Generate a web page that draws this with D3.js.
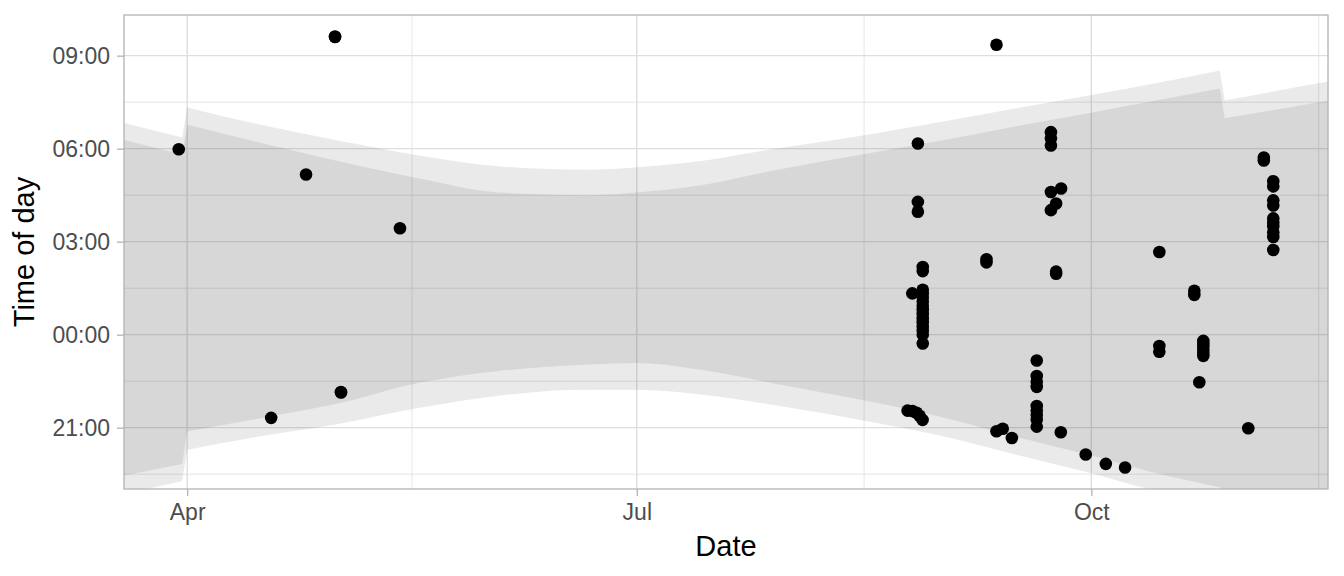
<!DOCTYPE html>
<html><head><meta charset="utf-8">
<script src="https://cdn.jsdelivr.net/npm/d3@7"></script>
<style>
body{margin:0;background:#fff}
svg{display:block}
text{font-family:"Liberation Sans",Arial,Helvetica,sans-serif}
</style>
</head><body>
<svg id="chart" width="1344" height="576"></svg>
<script>
// ---------- observations ----------
const obsDateTime = [
  "2019-03-30T07:00","2019-04-18T00:00","2019-04-25T01:30","2019-04-30T22:00","2019-04-30T22:30",
  "2019-05-02T03:00","2019-05-02T03:30","2019-05-14T01:40",
  "2019-08-26T21:20","2019-08-26T21:20","2019-08-26T21:20","2019-08-27T21:00","2019-08-27T21:00","2019-08-25T18:15",
  "2019-08-27T21:00","2019-08-27T21:00","2019-08-27T21:00","2019-08-27T21:00","2019-08-27T21:00","2019-08-27T21:00",
  "2019-08-27T21:00","2019-08-27T21:00","2019-08-27T21:00","2019-08-27T21:00","2019-08-27T21:00","2019-08-27T21:00",
  "2019-08-27T21:00",
  "2019-08-24T19:12","2019-08-25T19:30","2019-08-26T15:00","2019-08-27T05:30","2019-08-27T20:10",
  "2019-09-09T18:40","2019-09-09T18:40","2019-09-11T19:12","2019-09-11T19:12","2019-09-13T01:30","2019-09-14T22:00",
  "2019-09-19T22:50","2019-09-19T22:50","2019-09-19T22:50","2019-09-19T22:50","2019-09-19T22:50","2019-09-19T22:50",
  "2019-09-19T22:50","2019-09-19T22:50","2019-09-19T22:50",
  "2019-09-24T19:40",
  "2019-09-22T19:40","2019-09-22T19:40","2019-09-22T19:40","2019-09-24T21:10","2019-09-22T19:40","2019-09-23T20:50",
  "2019-09-22T19:40","2019-09-23T20:50","2019-09-23T20:50",
  "2019-09-29T20:40","2019-10-03T22:20","2019-10-07T19:50",
  "2019-10-14T18:15","2019-10-14T18:15","2019-10-14T18:15",
  "2019-10-21T20:10","2019-10-21T20:10",
  "2019-10-23T15:50","2019-10-23T15:50","2019-10-23T15:50","2019-10-23T15:50","2019-10-23T15:50","2019-10-23T15:50",
  "2019-10-22T20:25","2019-11-01T18:15",
  "2019-11-04T21:40","2019-11-04T21:40",
  "2019-11-06T19:40","2019-11-06T19:40","2019-11-06T19:40","2019-11-06T19:40","2019-11-06T19:40","2019-11-06T19:40",
  "2019-11-06T19:40","2019-11-06T19:40","2019-11-06T19:40","2019-11-06T19:40"
];
const obsTime = [
  "05:59","21:19","05:10","09:37","09:36",
  "22:09","22:08","03:26",
  "06:10","04:17","03:58","02:11","02:03","01:20",
  "01:27","01:20","01:12","01:04","00:56","00:48",
  "00:40","00:32","00:24","00:16","00:08","00:00",
  "23:43",
  "21:33","21:32","21:29","21:23","21:15",
  "02:26","02:20","09:21","20:53","20:58","20:40",
  "23:10","22:40","22:29","22:19","21:42","21:33",
  "21:25","21:16","21:02",
  "20:51",
  "06:32","06:20","06:06","04:43","04:36","04:14",
  "04:01","02:02","01:58",
  "20:08","19:50","19:43",
  "02:40","23:38","23:27",
  "01:25","01:17",
  "23:48","23:42","23:37","23:31","23:25","23:19",
  "22:28","20:59",
  "05:43","05:37",
  "04:57","04:47","04:20","04:10","03:45","03:37",
  "03:30","03:18","03:09","02:44"
];

// ---------- night bands (hours from midnight, local clock time) ----------
const sunDates = ["2019-03-15","2019-03-31","2019-04-01","2019-04-15","2019-05-01","2019-05-18","2019-06-03",
  "2019-06-21","2019-07-01","2019-07-14","2019-07-29","2019-08-17","2019-09-01","2019-09-15","2019-10-01",
  "2019-10-13","2019-10-27","2019-10-28","2019-11-10","2019-11-25"];
const clockSegment = [0,0,1,1,1,1,1,1,1,1,1,1,1,1,1,1,1,2,2,2];
const sunrise = [6.99,6.36,7.33,6.80,6.28,5.78,5.43,5.32,5.40,5.60,6.00,6.46,6.88,7.28,7.73,8.08,8.52,7.55,7.94,8.37];
const sunset  = [-5.30,-4.72,-3.71,-3.30,-2.90,-2.36,-1.97,-1.78,-1.78,-1.93,-2.28,-2.80,-3.28,-3.84,-4.47,-5.00,-5.52,-6.50,-6.80,-7.00];
const dawn    = [6.45,5.81,6.77,6.22,5.62,5.04,4.59,4.50,4.59,4.82,5.30,5.85,6.27,6.70,7.16,7.52,7.94,6.98,7.33,7.74];
const dusk    = [-4.68,-4.17,-3.12,-2.72,-2.24,-1.55,-1.17,-0.96,-0.91,-1.13,-1.58,-2.15,-2.67,-3.26,-3.90,-4.42,-4.92,-5.90,-6.30,-6.60];

// ---------- axes ----------
const xTickDates = ["2019-04-01","2019-07-01","2019-10-01"];
const xTickLabels = ["Apr","Jul","Oct"];
const xMinorDates = ["2019-05-16T12:00","2019-08-16T00:00","2019-11-16T00:00"];
const yTickValues = [-3,0,3,6,9];
const yTickLabels = ["21:00","00:00","03:00","06:00","09:00"];
const yMinorValues = [-4.5,-1.5,1.5,4.5,7.5,10.5];
const xTitle = "Date", yTitle = "Time of day";

// ---------- build ----------
const parseDT = d3.timeParse("%Y-%m-%dT%H:%M");
const parseD = d3.timeParse("%Y-%m-%d");
function toHours(s){ const [h,m]=s.split(":").map(Number); const v=h+m/60; return v>=12 ? v-24 : v; }

const obs = obsDateTime.map((d,i)=>({date:parseDT(d), t:toHours(obsTime[i])}));
const sun = sunDates.map((d,i)=>({date:parseD(d), seg:clockSegment[i], rise:sunrise[i], set:sunset[i], dawn:dawn[i], dusk:dusk[i]}));

const P = {left:124, right:1328, top:15, bottom:489};
const svg = d3.select("#chart");

const xExt = d3.extent(obs, d=>+d.date);
const xPad = (xExt[1]-xExt[0])*0.05;
const x = d3.scaleTime().domain([new Date(xExt[0]-xPad), new Date(xExt[1]+xPad)]).range([P.left,P.right]);
const yExt = d3.extent(obs, d=>d.t);
const yPad = (yExt[1]-yExt[0])*0.05;
const y = d3.scaleLinear().domain([yExt[0]-yPad, yExt[1]+yPad]).range([P.bottom,P.top]);

svg.append("defs").append("clipPath").attr("id","panel")
  .append("rect").attr("x",P.left).attr("y",P.top).attr("width",P.right-P.left).attr("height",P.bottom-P.top);

const grid = svg.append("g").attr("clip-path","url(#panel)");
grid.selectAll(".ymin").data(yMinorValues).join("line")
  .attr("x1",P.left).attr("x2",P.right).attr("y1",d=>y(d)).attr("y2",d=>y(d))
  .attr("stroke","#dedede").attr("stroke-width",0.8);
grid.selectAll(".xmin").data(xMinorDates.map(parseDT)).join("line")
  .attr("y1",P.top).attr("y2",P.bottom).attr("x1",d=>x(d)).attr("x2",d=>x(d))
  .attr("stroke","#dedede").attr("stroke-width",0.8);
grid.selectAll(".ymaj").data(yTickValues).join("line")
  .attr("x1",P.left).attr("x2",P.right).attr("y1",d=>y(d)).attr("y2",d=>y(d))
  .attr("stroke","#dedede").attr("stroke-width",1.4);
grid.selectAll(".xmaj").data(xTickDates.map(parseD)).join("line")
  .attr("y1",P.top).attr("y2",P.bottom).attr("x1",d=>x(d)).attr("x2",d=>x(d))
  .attr("stroke","#dedede").attr("stroke-width",1.4);

// ribbons: one closed path per ribbon; smooth within each clock segment, straight across clock changes
const segs = d3.groups(sun, d=>d.seg).map(s=>s[1]);
function edgePath(key, reverse){
  const line = d3.line().x(d=>x(d.date)).y(d=>y(d[key])).curve(d3.curveMonotoneX);
  let list = segs.map(s=>s.slice());
  if(reverse){ list = list.reverse().map(s=>s.reverse()); }
  return list.map(s=>line(s).replace(/^M/,"L")).join("");
}
function ribbonPath(lo, hi){
  const top = edgePath(hi,false).replace(/^L/,"M");
  const bottom = edgePath(lo,true);
  return top + bottom + "Z";
}
const ribG = svg.append("g").attr("clip-path","url(#panel)");
ribG.append("path").attr("d",ribbonPath("set","rise")).attr("fill","#333").attr("fill-opacity",0.1);
ribG.append("path").attr("d",ribbonPath("dusk","dawn")).attr("fill","#333").attr("fill-opacity",0.1);

// points
svg.append("g").selectAll("circle").data(obs).join("circle")
  .attr("cx",d=>x(d.date)).attr("cy",d=>y(d.t)).attr("r",6.3).attr("fill","#000");

// border
svg.append("rect").attr("x",P.left).attr("y",P.top).attr("width",P.right-P.left).attr("height",P.bottom-P.top)
  .attr("fill","none").attr("stroke","#b3b3b3").attr("stroke-width",1.3);

// axes
const xAxis = svg.append("g").attr("transform",`translate(0,${P.bottom})`)
  .call(d3.axisBottom(x).tickValues(xTickDates.map(parseD)).tickFormat((d,i)=>xTickLabels[i]).tickSizeOuter(0).tickSize(7).tickPadding(6));
const yAxis = svg.append("g").attr("transform",`translate(${P.left},0)`)
  .call(d3.axisLeft(y).tickValues(yTickValues).tickFormat((d,i)=>yTickLabels[i]).tickSizeOuter(0).tickSize(7).tickPadding(7));
[xAxis,yAxis].forEach(a=>{
  a.select(".domain").remove();
  a.selectAll(".tick line").attr("stroke","#b3b3b3").attr("stroke-width",1.3);
  a.selectAll(".tick text").attr("fill","#4d4d4d").style("font-size","23px").style("font-family","'Liberation Sans',Arial,sans-serif");
});
xAxis.selectAll(".tick text").attr("dy",null).attr("y",31);
yAxis.selectAll(".tick text").attr("dy","0.36em");

svg.append("text").attr("x",(P.left+P.right)/2).attr("y",556).attr("text-anchor","middle")
  .style("font-size","29px").attr("fill","#000").text(xTitle);
svg.append("text").attr("transform",`translate(34,${(P.top+P.bottom)/2}) rotate(-90)`).attr("text-anchor","middle")
  .style("font-size","29px").attr("fill","#000").text(yTitle);
</script>
</body></html>
